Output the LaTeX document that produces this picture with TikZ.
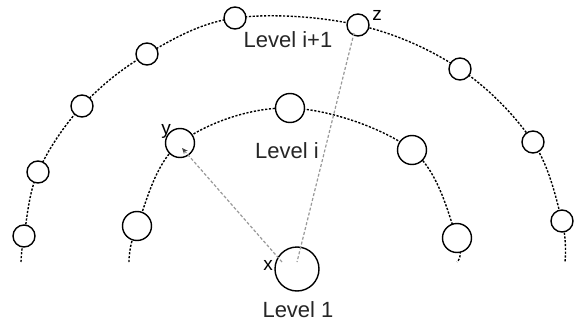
\documentclass[tikz,border=0pt]{standalone}
\usepackage{fontspec}
\setmainfont{Liberation Sans}
\usetikzlibrary{arrows.meta}
\begin{document}
\begin{tikzpicture}[x=1pt,y=-1pt,
  arcline/.style={line width=1.4pt, dash pattern=on 2.2pt off 1.6pt},
  outer/.style={circle, draw, line width=1.4pt, fill=white, inner sep=0pt, minimum size=22pt},
  inner/.style={circle, draw, line width=1.4pt, fill=white, inner sep=0pt, minimum size=29pt},
  big/.style={circle, draw, line width=1.4pt, fill=white, inner sep=0pt, minimum size=44pt},
  ray/.style={line width=1.2pt, draw=black!40, dash pattern=on 3pt off 2pt},
  lbl/.style={font=\fontsize{22}{26}\selectfont, text=black!85, anchor=base, inner sep=0pt},
  let/.style={font=\fontsize{19}{22}\selectfont, anchor=base, inner sep=0pt}]
\useasboundingbox (0,0) rectangle (579,324);
\fill[white] (0,0) rectangle (579,324);
% arcs
\draw[arcline] plot[smooth, tension=0.6] coordinates {(21,262) (24,236) (38,172) (82,106) (147,54) (235,18) (358,25) (460,69) (533,142) (562,221) (565,262)};
\draw[arcline] plot[smooth, tension=0.6] coordinates {(129,262) (137,226) (180,143) (290,108) (412,150) (457,238) (457,262)};
% outer level nodes
\node[outer] (o1) at (24,236) {};
\node[outer] (o2) at (38,172) {};
\node[outer] (o3) at (82,106) {};
\node[outer] (o4) at (147,54) {};
\node[outer] (o5) at (235,18) {};
\node[outer] (z) at (358,25) {};
\node[outer] (o7) at (460,69) {};
\node[outer] (o8) at (533,142) {};
\node[outer] (o9) at (562,221) {};
% inner level nodes
\node[inner] (i1) at (137,226) {};
\node[inner] (y) at (180,143) {};
\node[inner] (i3) at (290,108) {};
\node[inner] (i4) at (412,150) {};
\node[inner] (i5) at (457,238) {};
% root
\node[big] (x) at (297,269) {};
% rays
\coordinate (xa) at (282,262);
\coordinate (xb) at (297,262);
\coordinate (za) at (354,33);
\coordinate (ya) at (182,148);
\draw[ray, -{Stealth[length=6pt,width=5pt,color=black!75]}] (xa) -- (ya);
\draw[ray] (za) -- (xb);
% labels
\node[lbl] (l2) at (288,47) {Level i+1};
\node[lbl] (l1) at (287,158) {Level i};
\node[lbl] (l0) at (298,317) {Level 1};
\node[let] (zl) at (377,20) {z};
\node[let] (yl) at (166,134) {y};
\node[let] (xl) at (268,270) {x};
\end{tikzpicture}
\end{document}
